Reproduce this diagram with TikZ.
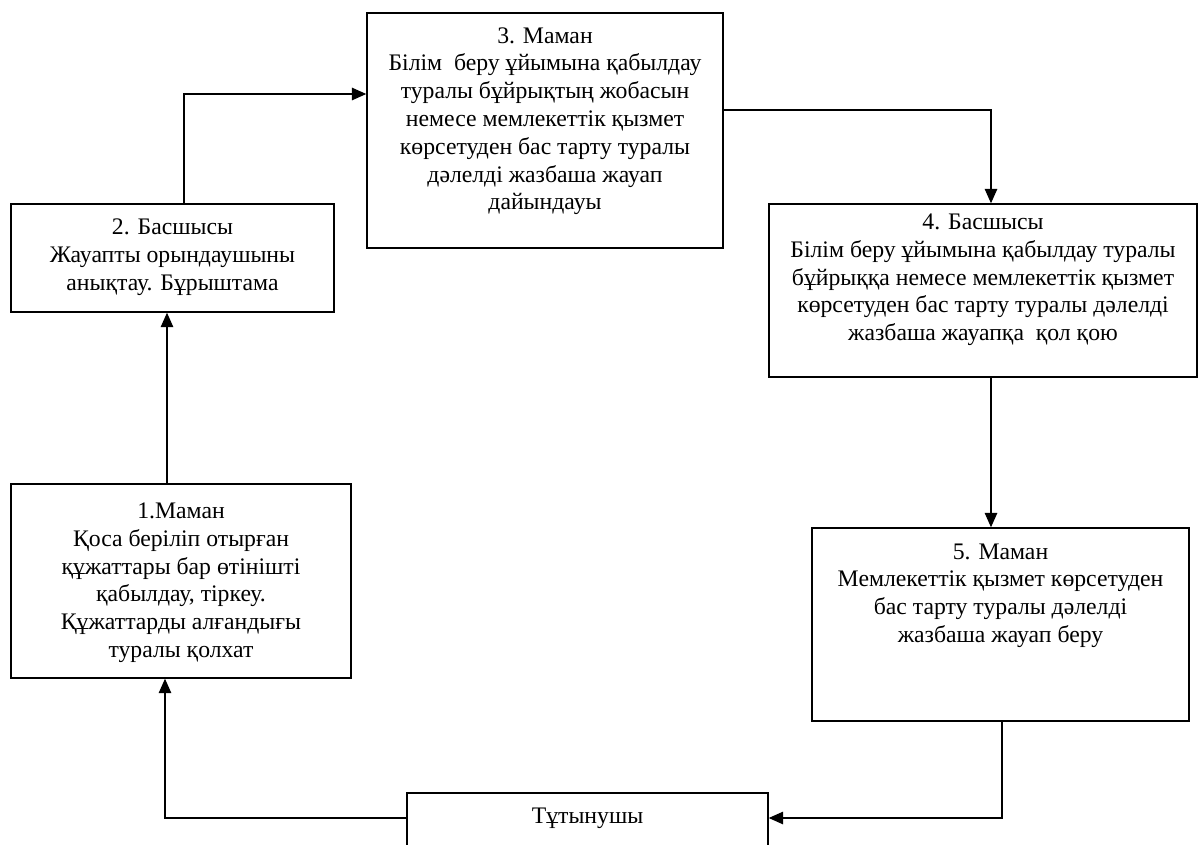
\documentclass[tikz,border=0pt]{standalone}
\usepackage{fontspec}
\setmainfont{Liberation Serif}
\usepackage{tikz}
\usetikzlibrary{arrows.meta}
\usetikzlibrary{positioning}

\begin{document}
\begin{tikzpicture}[
	x=0.02cm, y=-0.02cm,
	line width=0.8pt,
	font=\fontsize{13.5}{15.8}\selectfont
]
\tikzset{
    stepbox/.style = {rectangle, draw=black, fill=white, inner sep=0pt},
    steptext/.style = {align=center, inner sep=0pt},
    edgea/.style = {-{Triangle[length=0.29cm,width=0.25cm]}},
}
\clip (0,0) rectangle (1198,845);
\fill[white] (0,0) rectangle (1198,845);
%
\node[stepbox, minimum width=6.80cm, minimum height=3.88cm] at (181,581) (b1) {};
\node[stepbox, minimum width=6.46cm, minimum height=2.16cm] at (172.5,258) (b2) {};
\node[stepbox, minimum width=7.12cm, minimum height=4.70cm] at (545,130.5) (b3) {};
\node[stepbox, minimum width=8.56cm, minimum height=3.46cm] at (983,290.5) (b4) {};
\node[stepbox, minimum width=7.54cm, minimum height=3.86cm] at (1000.5,624.5) (b5) {};
\node[stepbox, minimum width=7.22cm, minimum height=2.00cm] at (587.5,843) (b6) {};
%
\node[steptext, below=0.38cm of b1.north] (t1) {1.Маман\\Қоса беріліп отырған\\құжаттары бар өтінішті\\қабылдау, тіркеу.\\Құжаттарды алғандығы\\туралы қолхат};
\node[steptext, below=0.30cm of b2.north] (t2) {2. Басшысы\\Жауапты орындаушыны\\анықтау. Бұрыштама};
\node[steptext, below=0.29cm of b3.north] (t3) {3. Маман\\Білім\ \ беру ұйымына қабылдау\\туралы бұйрықтың жобасын\\немесе мемлекеттік қызмет\\көрсетуден бас тарту туралы\\дәлелді жазбаша жауап\\дайындауы};
\node[steptext, below=0.20cm of b4.north] (t4) {4. Басшысы\\Білім беру ұйымына қабылдау туралы\\бұйрыққа немесе мемлекеттік қызмет\\көрсетуден бас тарту туралы дәлелді\\жазбаша жауапқа\ \ қол қою};
\node[steptext, below=0.31cm of b5.north] (t5) {5. Маман\\Мемлекеттік қызмет көрсетуден\\бас тарту туралы дәлелді\\жазбаша жауап беру};
\node[steptext, below=0.30cm of b6.north] (t6) {Тұтынушы};
%
\coordinate (c1) at (167,0);
\coordinate (c2) at (184,94);
\coordinate (c3) at (991,110);
\coordinate (c5) at (1002,818);
\coordinate (c6) at (165,818);
%
\draw[edgea] (b1.north -| c1) -- (b2.south -| c1);
\draw[edgea] (b2.north -| c2) |- (b3.west |- c2);
\draw[edgea] (b3.east |- c3) -| (b4.north -| c3);
\draw[edgea] (b4.south -| c3) -- (b5.north -| c3);
\draw[edgea] (b5.south -| c5) |- (b6.east |- c5);
\draw[edgea] (b6.west |- c6) -| (b1.south -| c6);
\end{tikzpicture}
\end{document}
